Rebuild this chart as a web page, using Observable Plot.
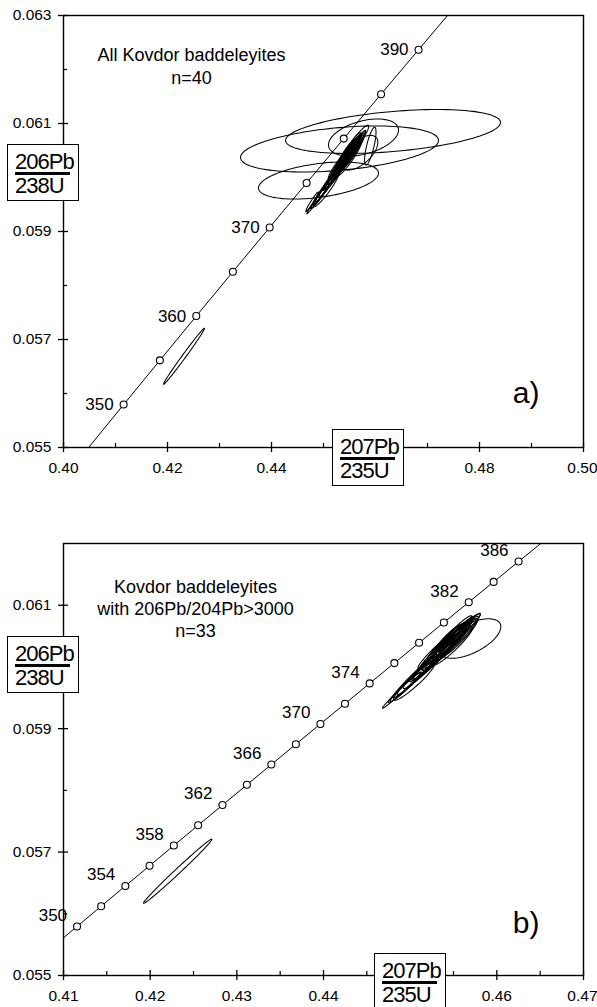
<!DOCTYPE html>
<html><head><meta charset="utf-8">
<script src="https://cdn.jsdelivr.net/npm/d3@7"></script>
<script src="https://cdn.jsdelivr.net/npm/@observablehq/plot@0.6"></script>
<style>
body{margin:0;background:#fff;}
#wrap{position:relative;width:597px;height:1007px;overflow:hidden;font-family:"Liberation Sans",Arial,sans-serif;color:#000;background:#fff;}
.panel{position:absolute;left:0;}
.frac{position:absolute;box-sizing:border-box;border:1.5px solid #000;background:#fff;width:72px;height:57px;font-size:22px;letter-spacing:-1px;line-height:1;color:#000;}
.frac .num{position:absolute;left:7px;top:6px;}
.frac .bar{position:absolute;left:7px;width:55px;top:27px;height:2.5px;background:#000;}
.frac .den{position:absolute;left:7px;top:30px;}
</style></head>
<body>
<div id="wrap"></div>
<script>
// ---- Concordia (age in Ma, 207Pb/235U, 206Pb/238U) ----
const concAgeA = [345, 350, 355, 360, 365, 370, 375, 380, 385, 390, 395];
const concXA = [0.404630, 0.411563, 0.418531, 0.425534, 0.432571, 0.439643, 0.446750, 0.453892, 0.461069, 0.468282, 0.475530];
const concYA = [0.054976, 0.055795, 0.056614, 0.057434, 0.058254, 0.059075, 0.059897, 0.060720, 0.061543, 0.062366, 0.063191];
const markAgesA = [350, 355, 360, 365, 370, 375, 380, 385, 390];
const labelAgesA = [350, 360, 370, 390];

const concAgeB = [348, 350, 352, 354, 356, 358, 360, 362, 364, 366, 368, 370, 372, 374, 376, 378, 380, 382, 384, 386, 388];
const concXB = [0.408786, 0.411563, 0.414346, 0.417135, 0.419929, 0.422729, 0.425534, 0.428345, 0.431161, 0.433983, 0.436810, 0.439643, 0.442481, 0.445325, 0.448175, 0.451030, 0.453891, 0.456758, 0.459630, 0.462508, 0.465392];
const concYB = [0.055468, 0.055795, 0.056123, 0.056450, 0.056778, 0.057106, 0.057434, 0.057762, 0.058090, 0.058419, 0.058747, 0.059076, 0.059404, 0.059733, 0.060062, 0.060391, 0.060720, 0.061049, 0.061378, 0.061708, 0.062037];
const markAgesB = [350, 352, 354, 356, 358, 360, 362, 364, 366, 368, 370, 372, 374, 376, 378, 380, 382, 384, 386];
const labelAgesB = [350, 354, 358, 362, 366, 370, 374, 382, 386];

// ---- Axis ticks ----
const tickXA = [0.40, 0.42, 0.44, 0.46, 0.48, 0.50];
const tickLabelXA = [0.40, 0.42, 0.44, 0.48];
const minorXA = [0.41, 0.43, 0.45, 0.47, 0.49];
const tickYA = [0.055, 0.057, 0.059, 0.061, 0.063];
const minorYA = [0.056, 0.058, 0.060, 0.062];
const tickXB = [0.41, 0.42, 0.43, 0.44, 0.45, 0.46, 0.47];
const tickLabelXB = [0.41, 0.42, 0.43, 0.44, 0.46];
const minorXB = [0.415, 0.425, 0.435, 0.445, 0.455, 0.465];
const tickYB = [0.055, 0.057, 0.059, 0.061];
const minorYB = [0.056, 0.058, 0.060];

// ---- Error ellipses: centre, half-extent (2s) on x and y, correlation ----
// analyses with 206Pb/204Pb > 3000 (shown in both panels, n=33)
const ellCX = [0.42318, 0.45696, 0.4505,
  0.4545, 0.4550, 0.4540, 0.4553, 0.4548, 0.4543, 0.4556, 0.4538, 0.4552, 0.4547,
  0.4541, 0.4558, 0.4535, 0.4549, 0.4544, 0.4554, 0.4546, 0.4551, 0.4539, 0.4557,
  0.4510, 0.4500, 0.4490, 0.4520, 0.4495, 0.4528, 0.4515, 0.4532, 0.4505, 0.4530];
const ellCY = [0.05669, 0.06046, 0.05977,
  0.06040, 0.06046, 0.06032, 0.06052, 0.06038, 0.06036, 0.06056, 0.06026, 0.06044, 0.06048,
  0.06040, 0.06060, 0.06022, 0.06034, 0.06046, 0.06050, 0.06042, 0.06055, 0.06030, 0.06052,
  0.05990, 0.05975, 0.05962, 0.06002, 0.05968, 0.06012, 0.05998, 0.06018, 0.05982, 0.06025];
const ellEX = [0.00395, 0.0035, 0.0024,
  0.0025, 0.0022, 0.0028, 0.0019, 0.0030, 0.0020, 0.0017, 0.0024, 0.0026, 0.0018,
  0.0021, 0.0015, 0.0032, 0.0023, 0.0016, 0.0027, 0.0035, 0.0020, 0.0018, 0.0022,
  0.0030, 0.0025, 0.0022, 0.0028, 0.0018, 0.0024, 0.0016, 0.0030, 0.0020, 0.0021];
const ellEY = [0.00052, 0.00032, 0.00031,
  0.00033, 0.00030, 0.00036, 0.00026, 0.00040, 0.00028, 0.00024, 0.00032, 0.00035, 0.00025,
  0.00029, 0.00022, 0.00042, 0.00031, 0.00023, 0.00036, 0.00045, 0.00028, 0.00025, 0.00030,
  0.00040, 0.00033, 0.00029, 0.00037, 0.00024, 0.00032, 0.00022, 0.00040, 0.00027, 0.00028];
const ellRho = [0.994, 0.6, 0.94,
  0.96, 0.97, 0.95, 0.96, 0.97, 0.94, 0.95, 0.97, 0.93, 0.96,
  0.95, 0.97, 0.98, 0.94, 0.93, 0.97, 0.98, 0.96, 0.95, 0.94,
  0.98, 0.98, 0.99, 0.97, 0.97, 0.96, 0.96, 0.98, 0.97, 0.95];
// remaining analyses (panel a only)
const extraCX = [0.46337, 0.45308, 0.45769, 0.44904, 0.4555, 0.4590, 0.4478];
const extraCY = [0.060852, 0.060528, 0.060741, 0.059944, 0.06055, 0.06058, 0.05955];
const extraEX = [0.02067, 0.01904, 0.00673, 0.01154, 0.0032, 0.0011, 0.0012];
const extraEY = [0.000407, 0.000426, 0.000343, 0.000343, 0.00042, 0.00035, 0.00018];
const extraRho = [0.41, 0.37, 0.40, 0.40, 0.95, 0.75, 0.97];

const font = '"Liberation Sans", Arial, sans-serif';

function conc(ages, xs, ys) { return ages.map((a, i) => ({age: a, x: xs[i], y: ys[i]})); }
function ellipses(cx, cy, ex, ey, rho, tag) {
  const pts = [];
  cx.forEach((c, i) => {
    const s = Math.sqrt(1 - rho[i] * rho[i]);
    for (let k = 0; k <= 120; k++) {
      const t = (k / 120) * 2 * Math.PI;
      pts.push({id: tag + i, x: c + ex[i] * Math.cos(t), y: cy[i] + ey[i] * (rho[i] * Math.cos(t) + s * Math.sin(t))});
    }
  });
  return pts;
}

function panel(o) {
  const c = conc(o.ages, o.cx, o.cy);
  const marks = c.filter(d => o.markAges.includes(d.age));
  const labels = c.filter(d => o.labelAges.includes(d.age));
  const last = o.majX[o.majX.length - 1];
  return Plot.plot({
    width: 597, height: o.height,
    marginLeft: 63, marginRight: 14, marginTop: o.mt, marginBottom: o.mb,
    x: {domain: o.xdom}, y: {domain: o.ydom},
    style: {fontFamily: font, color: "black", background: "white"},
    marks: [
      Plot.line(o.ell, {x: "x", y: "y", z: "id", stroke: "black", strokeWidth: 1.05, clip: true}),
      Plot.line(c, {x: "x", y: "y", stroke: "black", strokeWidth: 1, clip: true}),
      Plot.dot(marks, {x: "x", y: "y", r: 3.5, fill: "white", stroke: "black", strokeWidth: 1.1}),
      Plot.text(labels, {x: "x", y: "y", text: d => String(d.age), textAnchor: "end", dx: -10, dy: o.labDy, fontSize: 17, fill: "black"}),
      Plot.frame({stroke: "black", strokeWidth: 1.4}),
      Plot.axisX(o.majX, {tickSize: 5, fill: "none", label: null, strokeWidth: 1.3}),
      Plot.axisX(o.labX, {tickSize: 5, stroke: "none", tickPadding: 9, tickFormat: d3.format(".2f"), fontSize: 15.5, label: null}),
      Plot.axisX([last], {tickSize: 5, stroke: "none", tickPadding: 9, tickFormat: d3.format(".2f"), fontSize: 15.5, label: null, textAnchor: "end", dx: 14}),
      Plot.axisX(o.majX, {tickSize: -5, fill: "none", label: null, strokeWidth: 1.3}),
      Plot.axisX(o.minX, {tickSize: -4, fill: "none", label: null, strokeWidth: 1.2}),
      Plot.axisY(o.majY, {tickSize: 5, tickPadding: 7, tickFormat: d3.format(".3f"), fontSize: 15.5, label: null, strokeWidth: 1.3}),
      Plot.axisY(o.majY, {tickSize: -5, fill: "none", label: null, strokeWidth: 1.3}),
      Plot.axisY(o.minY, {tickSize: -4, fill: "none", label: null, strokeWidth: 1.2}),
      Plot.text([o.title], {frameAnchor: "top-left", dx: o.tdx, dy: o.tdy, textAnchor: "middle", lineAnchor: "middle", lineHeight: o.lh, fontSize: 18, fill: "black"}),
      Plot.text([o.tag], {frameAnchor: "bottom-right", dx: -44, dy: o.tagDy, textAnchor: "end", lineAnchor: "middle", fontSize: 30, fill: "black"})
    ]
  });
}

const wrap = document.getElementById("wrap");
function place(node, top) { node.classList.add("panel"); node.style.top = top + "px"; wrap.appendChild(node); }
function frac(num, den, left, top) {
  const d = document.createElement("div");
  d.className = "frac"; d.style.left = left + "px"; d.style.top = top + "px";
  d.innerHTML = `<div class="num">${num}</div><div class="bar"></div><div class="den">${den}</div>`;
  wrap.appendChild(d);
}

const pa = panel({
  height: 500, mt: 15, mb: 53, xdom: [0.40, 0.50], ydom: [0.055, 0.063],
  ages: concAgeA, cx: concXA, cy: concYA, markAges: markAgesA, labelAges: labelAgesA, labDy: 0,
  ell: ellipses(ellCX, ellCY, ellEX, ellEY, ellRho, "c").concat(ellipses(extraCX, extraCY, extraEX, extraEY, extraRho, "e")),
  majX: tickXA, labX: tickLabelXA, minX: minorXA, majY: tickYA, minY: minorYA,
  title: "All Kovdor baddeleyites\nn=40", tdx: 128, tdy: 49.5, lh: 1.28, tag: "a)", tagDy: -54
});
place(pa, 0);

const pb = panel({
  height: 507, mt: 43, mb: 32, xdom: [0.41, 0.47], ydom: [0.055, 0.062],
  ages: concAgeB, cx: concXB, cy: concYB, markAges: markAgesB, labelAges: labelAgesB, labDy: -11,
  ell: ellipses(ellCX, ellCY, ellEX, ellEY, ellRho, "c"),
  majX: tickXB, labX: tickLabelXB, minX: minorXB, majY: tickYB, minY: minorYB,
  title: "Kovdor baddeleyites\nwith 206Pb/204Pb>3000\nn=33", tdx: 132, tdy: 64.3, lh: 1.22, tag: "b)", tagDy: -52
});
place(pb, 500);

frac("206Pb", "238U", 7, 144);
frac("207Pb", "235U", 332, 429);
frac("206Pb", "238U", 7, 636);
frac("207Pb", "235U", 374, 953);
</script>
</body></html>
